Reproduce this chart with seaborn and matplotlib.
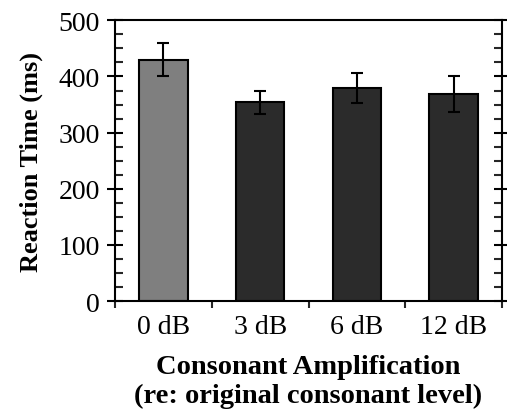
import matplotlib
matplotlib.use("Agg")
import matplotlib.pyplot as plt
from matplotlib.ticker import MultipleLocator, FixedLocator
import seaborn as sns
import pandas as pd
import numpy as np

categories = ["0 dB", "3 dB", "6 dB", "12 dB"]
reaction_time = [430, 354, 380, 369]
sem = [30, 20, 27, 32]
bar_colors = ["#7f7f7f", "#2b2b2b", "#2b2b2b", "#2b2b2b"]

sns.set_theme(style="white")
plt.rcParams["font.family"] = ["Liberation Serif", "DejaVu Serif"]

df = pd.DataFrame({"cond": categories, "rt": reaction_time})

fig = plt.figure(figsize=(5.07, 4.10), dpi=100)
ax = fig.add_axes([0.227, 0.263, 0.763, 0.685])

sns.barplot(data=df, x="cond", y="rt", hue="cond", palette=bar_colors,
            legend=False, width=0.5, edgecolor="black", linewidth=1.5,
            saturation=1, errorbar=None, ax=ax)

xs = [p.get_x() + p.get_width() / 2 for p in ax.patches]
ax.errorbar(xs, reaction_time, yerr=sem, fmt="none", ecolor="black",
            elinewidth=1.5, capsize=4, capthick=1.5)

ax.set_xlim(-0.5, len(categories) - 0.5)
ax.set_ylim(0, 500)

for side in ["left", "bottom", "right", "top"]:
    ax.spines[side].set_visible(True)
    ax.spines[side].set_color("black")
    ax.spines[side].set_linewidth(1.5)

ax.yaxis.set_major_locator(MultipleLocator(100))
ax.yaxis.set_minor_locator(MultipleLocator(25))
ax.tick_params(axis="y", which="major", direction="inout", length=12, width=1.5,
               left=True, right=True, labelsize=20, colors="black", pad=5)
ax.tick_params(axis="y", which="minor", direction="in", length=6, width=1.5,
               left=True, right=True)

ax.xaxis.set_minor_locator(FixedLocator(np.arange(-0.5, len(categories), 1.0)))
ax.tick_params(axis="x", which="major", length=0, labelsize=20, colors="black", pad=9)
ax.tick_params(axis="x", which="minor", direction="out", length=5, width=1.5,
               bottom=True, top=False)

ax.set_xlabel("Consonant Amplification\n(re: original consonant level)",
              fontsize=20.5, fontweight="bold", color="black", labelpad=11,
              linespacing=1.2)
ax.set_ylabel("Reaction Time (ms)", fontsize=19, fontweight="bold",
              color="black", labelpad=11)

fig.savefig("out.png", dpi=100)
